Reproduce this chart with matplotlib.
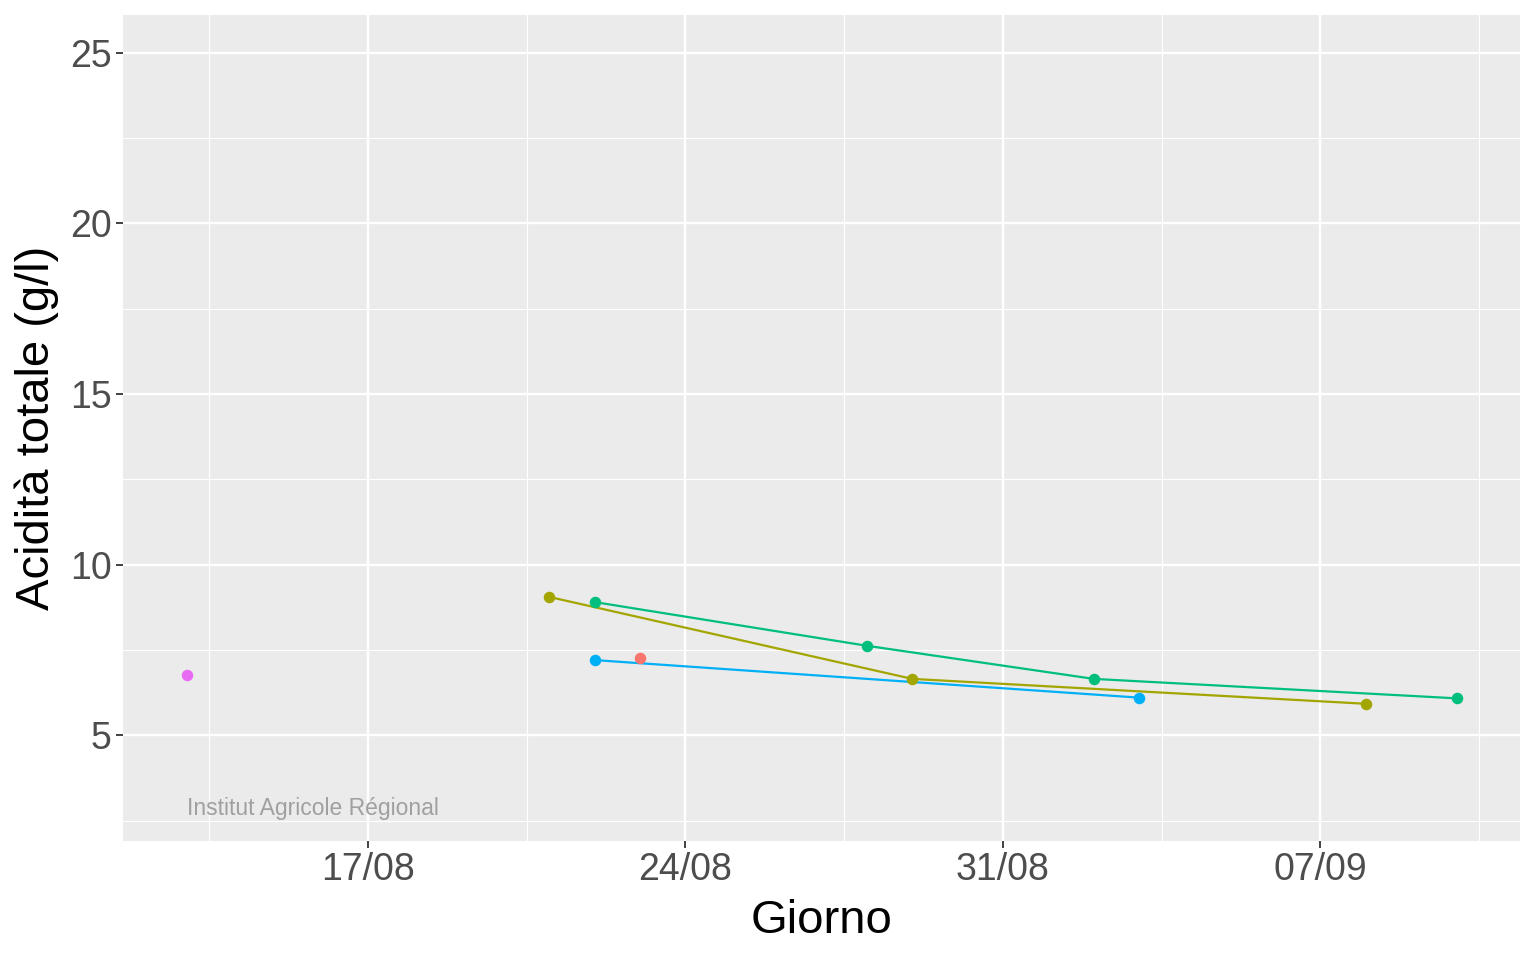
import matplotlib
matplotlib.use("Agg")
import matplotlib.pyplot as plt
import matplotlib.dates as mdates
from datetime import datetime, timedelta

plt.rcParams['font.family'] = ['Liberation Sans', 'DejaVu Sans']

# data: one series per colour
olive_days = ["2021-08-21", "2021-08-29", "2021-09-08"]
olive_vals = [9.05, 6.65, 5.92]
green_days = ["2021-08-22", "2021-08-28", "2021-09-02", "2021-09-10"]
green_vals = [8.90, 7.62, 6.65, 6.08]
blue_days = ["2021-08-22", "2021-09-03"]
blue_vals = [7.20, 6.10]
red_days = ["2021-08-23"]
red_vals = [7.25]
magenta_days = ["2021-08-13"]
magenta_vals = [6.75]

series = [
    (red_days, red_vals, "#F8766D"),
    (olive_days, olive_vals, "#A3A500"),
    (green_days, green_vals, "#00BF7D"),
    (blue_days, blue_vals, "#00B0F6"),
    (magenta_days, magenta_vals, "#E76BF3"),
]

def to_dt(days):
    return [datetime.strptime(d, "%Y-%m-%d") for d in days]

fig = plt.figure(figsize=(15.36, 9.6), dpi=100)
ax = fig.add_axes([123 / 1536, 1 - 841 / 960, (1520 - 123) / 1536, (841 - 15) / 960])
ax.set_facecolor("#EBEBEB")

for days, vals, col in series:
    d = to_dt(days)
    if len(d) > 1:
        ax.plot(d, vals, color=col, lw=1.6, zorder=3)
    ax.plot(d, vals, 'o', color=col, ms=8.3, mec='none', zorder=4)

# limits with ggplot-style 5% expansion
x0 = datetime(2021, 8, 13)
x1 = datetime(2021, 9, 10)
span = (x1 - x0) * 0.05
ax.set_xlim(x0 - span, x1 + span)
ax.set_ylim(3 - 0.05 * 22, 25 + 0.05 * 22)

major_x = [datetime(2021, 8, 17) + timedelta(days=7 * i) for i in range(4)]
minor_x = [datetime(2021, 8, 13, 12) + timedelta(days=7 * i) for i in range(5)]
ax.set_xticks(major_x)
ax.set_xticks(minor_x, minor=True)
ax.xaxis.set_major_formatter(mdates.DateFormatter("%d/%m"))
ax.set_yticks([5, 10, 15, 20, 25])
ax.set_yticks([2.5, 7.5, 12.5, 17.5, 22.5], minor=True)

ax.grid(which='major', color='white', lw=1.7)
ax.grid(which='minor', color='white', lw=0.85)
ax.set_axisbelow(True)
for s in ax.spines.values():
    s.set_visible(False)

ax.tick_params(which='major', length=5, width=1.3, color='#333333',
               labelsize=27, labelcolor='#4D4D4D', pad=3)
ax.tick_params(which='minor', length=0)

ax.set_xlabel("Giorno", fontsize=34, labelpad=8)
ax.set_ylabel("Acidità totale (g/l)", fontsize=34, labelpad=8)

ax.text(datetime(2021, 8, 13), 2.65, "Institut Agricole Régional",
        fontsize=16.5, color='#A0A0A0', ha='left', va='baseline', zorder=5)

fig.savefig("out.png", dpi=100)
